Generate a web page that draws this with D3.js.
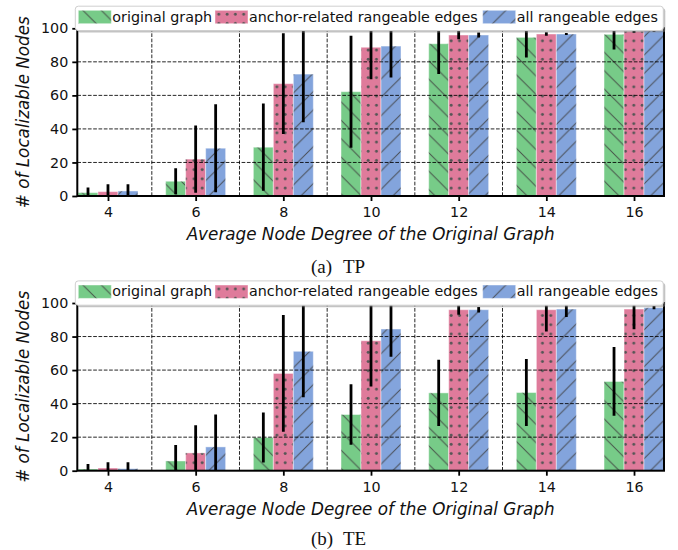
<!DOCTYPE html>
<html>
<head>
<meta charset="utf-8">
<script src="https://cdn.jsdelivr.net/npm/d3@7"></script>
<style>
  html, body { margin: 0; padding: 0; background: #fff; }
  svg { display: block; }
</style>
</head>
<body>
<svg id="chart" width="678" height="550"></svg>
<script>
// ---------------- DATA ----------------
const categories = [4, 6, 8, 10, 12, 14, 16];
const seriesNames = ["original graph", "anchor-related rangeable edges", "all rangeable edges"];
const yTicks = [0, 20, 40, 60, 80, 100];
const xGridValues = [5, 7, 9, 11, 13];

// (a) TP : means and standard deviations
const tpOriginal    = [2.0, 8.8, 29.1, 62.2, 90.8, 94.6, 96.4];
const tpOriginalErr = [3.0, 7.7, 26.0, 33.4, 18.1, 12.0, 9.0];
const tpAnchor      = [2.6, 22.0, 67.0, 88.7, 96.0, 96.6, 98.2];
const tpAnchorErr   = [4.4, 20.0, 30.0, 19.1, 2.5, 1.0, 0.8];
const tpAll         = [3.0, 28.5, 72.7, 89.4, 96.0, 96.6, 98.6];
const tpAllErr      = [4.0, 26.2, 28.7, 18.8, 1.5, 0.6, 0.6];

// (b) TE
const teOriginal    = [1.0, 5.8, 19.8, 33.5, 46.4, 46.6, 53.2];
const teOriginalErr = [3.0, 9.5, 14.9, 18.0, 19.7, 20.0, 20.5];
const teAnchor      = [1.6, 10.6, 58.0, 77.5, 96.0, 96.0, 96.4];
const teAnchorErr   = [3.4, 16.5, 34.8, 27.3, 3.0, 13.0, 12.0];
const teAll         = [1.2, 14.2, 71.2, 84.5, 96.0, 96.4, 97.2];
const teAllErr      = [3.8, 19.3, 27.4, 16.6, 1.6, 4.8, 1.0];

const panels = [
  { label: "(a)", name: "TP", series: [tpOriginal, tpAnchor, tpAll], errs: [tpOriginalErr, tpAnchorErr, tpAllErr] },
  { label: "(b)", name: "TE", series: [teOriginal, teAnchor, teAll], errs: [teOriginalErr, teAnchorErr, teAllErr] }
];

// ---------------- STYLE / LAYOUT ----------------
const colors = ["#77cb88", "#df7b9b", "#83a4dc"];
const patternIds = ["hatchBack", "hatchDots", "hatchFwd"];
const legendX = [78.3, 215, 482.7];
const captionY = [273, 270];
const barW = 0.456;
const FS = 14.3;      // tick + legend font size
const LFS = 16.8;     // axis label font size
const SANS = "'DejaVu Sans', sans-serif";
const SERIF = "'Liberation Serif', 'Times New Roman', serif";
const svg = d3.select("#chart");

const x = d3.scaleLinear().domain([3.3, 16 + 1.5 * barW]).range([77.3, 664]);
const y = d3.scaleLinear().domain([0, 100]).range([196, 28.3]);

// hatch patterns
const defs = svg.append("defs");
const P = 18.4;
function linePattern(id, d) {
  const p = defs.append("pattern").attr("id", id).attr("patternUnits", "userSpaceOnUse")
    .attr("width", P).attr("height", P);
  p.append("path").attr("d", d).attr("stroke", "#404040").attr("stroke-width", 1)
    .attr("stroke-opacity", 0.85).attr("fill", "none");
}
linePattern("hatchBack", `M0,0L${P},${P}M${P-2},-2L${P+2},2M-2,${P-2}L2,${P+2}`);
linePattern("hatchFwd", `M0,${P}L${P},0M-2,2L2,-2M${P-2},${P+2}L${P+2},${P-2}`);
{
  const w = 8.3, h = 9.2;
  const p = defs.append("pattern").attr("id", "hatchDots").attr("patternUnits", "userSpaceOnUse")
    .attr("width", w).attr("height", h);
  p.append("circle").attr("cx", 3).attr("cy", 4).attr("r", 1.45).attr("fill", "#555");
}

panels.forEach((panel, pi) => {
  const g = svg.append("g").attr("transform", `translate(0,${pi * 274.7})`);
  const clipId = "clip" + pi;
  defs.append("clipPath").attr("id", clipId).append("rect")
    .attr("x", x.range()[0]).attr("y", y(100)).attr("width", x.range()[1] - x.range()[0]).attr("height", y(0) - y(100));

  const plot = g.append("g").attr("clip-path", `url(#${clipId})`);

  // bars
  panel.series.forEach((vals, si) => {
    const off = (si - 1) * barW;
    const bars = plot.append("g");
    bars.selectAll("rect.fill").data(vals).join("rect")
      .attr("x", (d, i) => x(categories[i] + off - barW / 2))
      .attr("width", x(barW) - x(0))
      .attr("y", d => y(d)).attr("height", d => y(0) - y(d))
      .attr("fill", colors[si]);
    bars.selectAll("rect.hatch").data(vals).join("rect")
      .attr("x", (d, i) => x(categories[i] + off - barW / 2))
      .attr("width", x(barW) - x(0))
      .attr("y", d => y(d)).attr("height", d => y(0) - y(d))
      .attr("fill", `url(#${patternIds[si]})`)
      .attr("stroke", "#ffffff").attr("stroke-opacity", 0.45).attr("stroke-width", 1);
  });

  // dashed grid on top of bars
  const grid = plot.append("g").attr("stroke", "#000").attr("stroke-width", 1)
    .attr("stroke-dasharray", "3.7,1.6").attr("stroke-opacity", 0.85);
  grid.selectAll("line.h").data(yTicks.filter(t => t > 0 && t < 100)).join("line")
    .attr("x1", x.range()[0]).attr("x2", x.range()[1]).attr("y1", d => y(d)).attr("y2", d => y(d));
  grid.selectAll("line.v").data(xGridValues).join("line")
    .attr("x1", d => x(d)).attr("x2", d => x(d)).attr("y1", y(0)).attr("y2", y(100));

  // error bars
  panel.series.forEach((vals, si) => {
    const off = (si - 1) * barW;
    const errs = panel.errs[si];
    plot.append("g").selectAll("line").data(vals).join("line")
      .attr("x1", (d, i) => x(categories[i] + off)).attr("x2", (d, i) => x(categories[i] + off))
      .attr("y1", (d, i) => y(d - errs[i])).attr("y2", (d, i) => y(d + errs[i]))
      .attr("stroke", "#000").attr("stroke-width", 2.8);
  });

  // axes
  const xAxis = d3.axisBottom(x).tickValues(categories).tickSize(5).tickPadding(4).tickFormat(d3.format("d"));
  const yAxis = d3.axisLeft(y).tickValues(yTicks).tickSize(5).tickPadding(4);
  const gx = g.append("g").attr("transform", `translate(0,${y(0)})`).call(xAxis);
  const gy = g.append("g").attr("transform", `translate(${x.range()[0]},0)`).call(yAxis);
  [gx, gy].forEach(a => {
    a.select(".domain").remove();
    a.selectAll(".tick line").attr("stroke", "#000").attr("stroke-width", 1.8);
    a.selectAll(".tick text").attr("fill", "#111")
      .style("font-family", SANS).style("font-size", FS + "px");
  });
  gx.selectAll(".tick text").attr("dy", "0.85em");

  // spines
  g.append("rect").attr("x", x.range()[0]).attr("y", y(100))
    .attr("width", x.range()[1] - x.range()[0]).attr("height", y(0) - y(100))
    .attr("stroke", "#000").attr("stroke-width", 2).attr("fill", "none");

  // axis labels
  g.append("text").attr("x", (x.range()[0] + x.range()[1]) / 2).attr("y", 240)
    .attr("text-anchor", "middle").style("font-family", SANS).style("font-size", LFS + "px")
    .style("font-style", "italic").attr("fill", "#111").text("Average Node Degree of the Original Graph");
  g.append("text").attr("transform", `translate(29,${(y(0) + y(100)) / 2}) rotate(-90)`)
    .attr("text-anchor", "middle").style("font-family", SANS).style("font-size", LFS + "px")
    .style("font-style", "italic").attr("fill", "#111").text("# of Localizable Nodes");

  // legend
  const lg = g.append("g").attr("transform", "translate(0,1)");
  const lx0 = 75.3, ly0 = 5.2, lw = 588, lh = 24.3;
  lg.append("rect").attr("x", lx0 + 2).attr("y", ly0 + 2).attr("width", lw).attr("height", lh)
    .attr("rx", 3).attr("fill", "#888").attr("fill-opacity", 0.5);
  lg.append("rect").attr("x", lx0).attr("y", ly0).attr("width", lw).attr("height", lh)
    .attr("rx", 3).attr("fill", "#fff").attr("stroke", "#cfcfcf").attr("stroke-width", 1);
  seriesNames.forEach((name, si) => {
    const cx = legendX[si];
    lg.append("rect").attr("x", cx).attr("y", 9.3).attr("width", 33).attr("height", 13.4).attr("fill", colors[si]);
    lg.append("rect").attr("x", cx).attr("y", 9.3).attr("width", 33).attr("height", 13.4)
      .attr("fill", `url(#${patternIds[si]})`).attr("stroke", "#fff").attr("stroke-opacity", 0.45);
    lg.append("text").attr("x", cx + 34).attr("y", 20.6)
      .style("font-family", SANS).style("font-size", FS + "px")
      .attr("fill", "#111").text(name);
  });

  // caption
  g.append("text").attr("x", 311).attr("y", captionY[pi]).style("font-family", SERIF)
    .style("font-size", "19px").attr("fill", "#111").text(panel.label);
  g.append("text").attr("x", 343).attr("y", captionY[pi]).style("font-family", SERIF)
    .style("font-size", "19px").attr("fill", "#111").text(panel.name);
});
</script>
</body>
</html>
